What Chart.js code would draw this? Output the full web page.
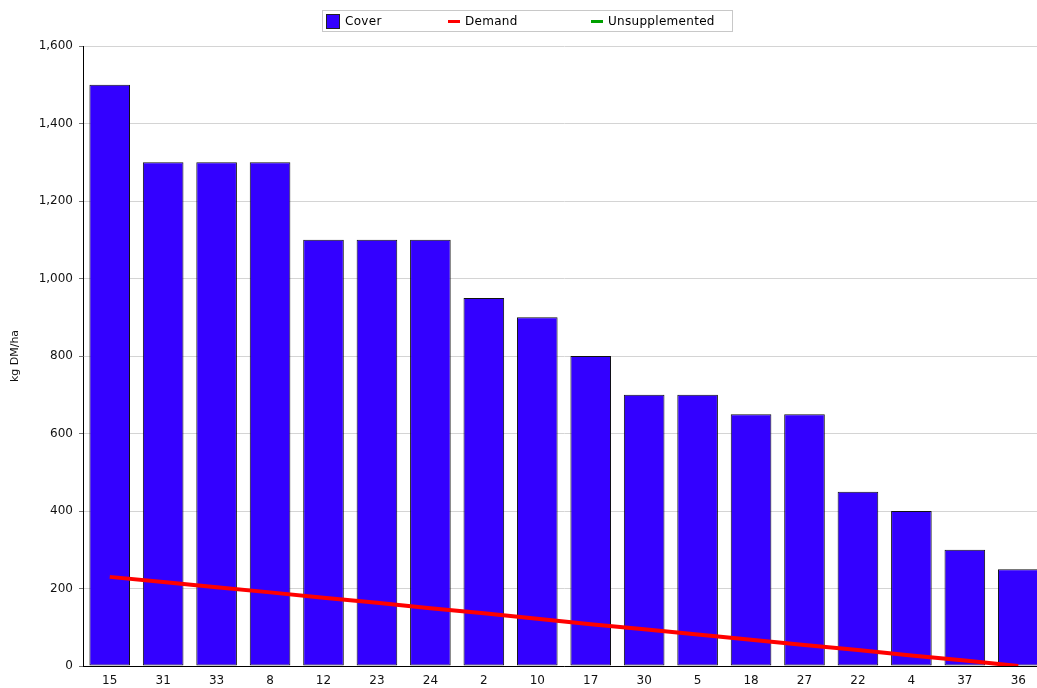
<!DOCTYPE html>
<html>
<head>
<meta charset="utf-8">
<script src="https://cdn.jsdelivr.net/npm/chart.js@4"></script>
<style>
  html, body { margin: 0; padding: 0; background: #fff; overflow: hidden; }
  #wrap { position: relative; width: 1045px; height: 688px; }
  #legend {
    position: absolute; left: 322px; top: 10px; width: 409px; height: 20px;
    border: 1px solid #c8c8c8; font: 12px "DejaVu Sans", sans-serif; color: #000;
  }
  .item { position: absolute; top: 0; height: 20px; line-height: 20px; white-space: nowrap; letter-spacing: 0.3px; }
  .sw { display: inline-block; vertical-align: middle; margin-right: 5px; }
</style>
</head>
<body>
<div id="wrap">
  <canvas id="myChart" width="1045" height="688"></canvas>
  <div id="legend"></div>
</div>
<script>
const paddocks = ['15', '31', '33', '8', '12', '23', '24', '2', '10', '17', '30', '5', '18', '27', '22', '4', '37', '36'];
const cover = [1500, 1300, 1300, 1300, 1100, 1100, 1100, 950, 900, 800, 700, 700, 650, 650, 450, 400, 300, 250];
const demand = [230, 217, 203, 190, 176, 163, 149, 136, 122, 108, 95, 81, 68, 54, 41, 27, 14, 0];
const unsupplemented = [];

const coverColor = '#3300ff';
const demandColor = '#ff0000';
const unsupColor = '#00a000';

// html legend, same look as the original
const legendItems = [
  { label: 'Cover', color: coverColor, box: true, x: 3 },
  { label: 'Demand', color: demandColor, box: false, x: 125 },
  { label: 'Unsupplemented', color: unsupColor, box: false, x: 268 }
];
const legendEl = document.getElementById('legend');
legendItems.forEach(it => {
  const d = document.createElement('div');
  d.className = 'item';
  d.style.left = it.x + 'px';
  const sw = document.createElement('span');
  sw.className = 'sw';
  if (it.box) {
    sw.style.cssText = 'width:14px;height:15px;background:' + it.color + ';border:1px solid #222;box-sizing:border-box;';
  } else {
    sw.style.cssText = 'width:12px;height:3px;background:' + it.color + ';margin-left:0;';
  }
  d.appendChild(sw);
  d.appendChild(document.createTextNode(it.label));
  legendEl.appendChild(d);
});

Chart.defaults.font.family = '"DejaVu Sans", sans-serif';
Chart.defaults.font.size = 12;
Chart.defaults.color = '#111';

const data = {
  labels: paddocks,
  datasets: [
    {
      type: 'line',
      label: 'Demand',
      data: demand,
      borderColor: demandColor,
      borderWidth: 4,
      pointRadius: 0,
      tension: 0,
      order: 0
    },
    {
      type: 'line',
      label: 'Unsupplemented',
      data: unsupplemented,
      borderColor: unsupColor,
      borderWidth: 2,
      pointRadius: 0,
      order: 0
    },
    {
      type: 'bar',
      label: 'Cover',
      data: cover,
      backgroundColor: coverColor,
      borderColor: '#111',
      borderWidth: 1,
      borderSkipped: false,
      barPercentage: 0.76,
      categoryPercentage: 1,
      order: 1
    }
  ]
};

const config = {
  data: data,
  options: {
    responsive: false,
    animation: false,
    layout: { padding: { top: 46, left: 0, right: 0, bottom: 0 } },
    scales: {
      x: {
        grid: { display: false, drawTicks: false },
        border: { display: true, color: '#000', width: 1 },
        ticks: { padding: 8, maxRotation: 0, autoSkip: false },
        afterFit: s => { s.height = 22; }
      },
      y: {
        min: 0,
        max: 1600,
        ticks: { stepSize: 200, padding: 6 },
        grid: { color: '#d4d4d4', tickColor: '#777', tickLength: 4 },
        border: { display: true, color: '#000', width: 1 },
        title: { display: true, text: 'kg DM/ha', font: { size: 11 }, padding: { top: 9, bottom: 4 } },
        afterFit: s => { s.width = 83; }
      }
    },
    plugins: {
      legend: { display: false },
      tooltip: { enabled: false }
    }
  }
};

const ctx = document.getElementById('myChart').getContext('2d');
const chart = new Chart(ctx, config);
</script>
</body>
</html>
